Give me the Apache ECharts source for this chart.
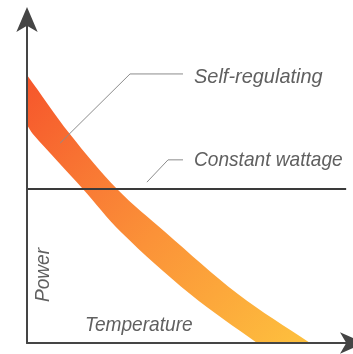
<!DOCTYPE html>
<html>
<head>
<meta charset="utf-8">
<script src="https://cdn.jsdelivr.net/npm/echarts@6/dist/echarts.min.js"></script>
<style>
  html, body { margin: 0; padding: 0; background: #ffffff; }
  #chart { width: 353px; height: 354px; }
</style>
</head>
<body>
<div id="chart"></div>
<script>
// Relative scales: temperature 0–100 along x, power 0–100 along y.
// Self-regulating heater band: upper and lower edges of the shaded curve.
const upperEdgeTemp  = [-2.2, 0.0, 13.2, 27.7, 42.5, 64.9, 87.1, 93.2];
const upperEdgePower = [85.8, 83.0, 64.7, 47.7, 34.4, 15.2, 0.0, -4.2];
const lowerEdgeTemp  = [-1.5, 0.0, 1.8, 17.2, 28.9, 50.2, 70.8, 76.9];
const lowerEdgePower = [69.5, 67.5, 64.7, 47.7, 34.4, 15.2, 0.0, -4.3];

// Constant wattage heater: flat output across the temperature range.
const constantTemp  = [0, 98.2];
const constantPower = [47.7, 47.7];

// Callout leader lines (temperature, power).
const selfRegLeaderTemp  = [10.2, 31.7, 48.0];
const selfRegLeaderPower = [61.9, 83.3, 83.3];
const constLeaderTemp    = [36.9, 43.4, 48.0];
const constLeaderPower   = [49.8, 56.7, 56.7];

const labelSelfReg  = 'Self-regulating';
const labelConstant = 'Constant wattage';
const labelX = 'Temperature';
const labelY = 'Power';

const pairs = (xs, ys) => xs.map((x, i) => [x, ys[i]]);

const textFont = "'Liberation Sans', Arial, sans-serif";
const textColor = '#606060';
const axisColor = '#454545';

// italic, slightly condensed label style
function labelText(text, x, y, size, extra) {
  return Object.assign({
    type: 'text', x: x, y: y, z: 10, scaleX: 0.91,
    style: { text: text, fontSize: size, fontStyle: 'italic', fontFamily: textFont,
             fill: textColor, textAlign: 'left', textVerticalAlign: 'middle' }
  }, extra || {});
}

const chart = echarts.init(document.getElementById('chart'), null, { renderer: 'canvas' });

const axisCommon = {
  type: 'value',
  min: 0,
  max: 100,
  z: 6,
  axisLine: {
    show: true,
    symbol: ['none', 'arrow'],
    symbolSize: [16, 25],
    symbolOffset: [0, 13],
    lineStyle: { color: axisColor, width: 2 }
  },
  axisTick: { show: false },
  axisLabel: { show: false },
  splitLine: { show: false }
};

const powerLabel = labelText(labelY, 43, 275, 21, { rotation: Math.PI / 2, scaleX: 0.91 });
powerLabel.style.textAlign = 'center';

chart.setOption({
  animation: false,
  backgroundColor: '#ffffff',
  grid: { left: 27, right: 1, top: 20, bottom: 11, containLabel: false },
  xAxis: Object.assign({}, axisCommon),
  yAxis: Object.assign({}, axisCommon),
  graphic: [
    labelText(labelSelfReg, 194, 77, 21, { scaleX: 0.95 }),
    labelText(labelConstant, 194, 160, 21),
    labelText(labelX, 85, 325, 21),
    powerLabel
  ],
  series: [
    {
      // shaded band: polygon built from both edges, clipped to the plot area
      type: 'custom',
      name: 'Self-regulating',
      clip: true,
      z: 1,
      data: [[0, 0]],
      renderItem: function (params, api) {
        const upper = pairs(upperEdgeTemp, upperEdgePower).map(p => api.coord(p));
        const lower = pairs(lowerEdgeTemp, lowerEdgePower).map(p => api.coord(p)).reverse();
        return {
          type: 'polygon',
          shape: { points: upper.concat(lower), smooth: 0.35 },
          style: {
            fill: {
              type: 'linear', x: 0, y: 0, x2: 1, y2: 1,
              colorStops: [
                { offset: 0.05, color: '#f6582c' },
                { offset: 0.34, color: '#f97e35' },
                { offset: 0.50, color: '#fb9238' },
                { offset: 0.70, color: '#fca73b' },
                { offset: 0.92, color: '#fdbf3e' }
              ]
            },
            stroke: null
          }
        };
      }
    },
    {
      type: 'line',
      name: 'Constant wattage',
      data: pairs(constantTemp, constantPower),
      symbol: 'none',
      z: 4,
      lineStyle: { color: '#3a3a3a', width: 2 }
    },
    {
      type: 'line',
      name: 'leader-self',
      data: pairs(selfRegLeaderTemp, selfRegLeaderPower),
      symbol: 'none',
      z: 3,
      lineStyle: { color: '#8c8c8c', width: 1 }
    },
    {
      type: 'line',
      name: 'leader-const',
      data: pairs(constLeaderTemp, constLeaderPower),
      symbol: 'none',
      z: 3,
      lineStyle: { color: '#8c8c8c', width: 1 }
    }
  ]
});
</script>
</body>
</html>
